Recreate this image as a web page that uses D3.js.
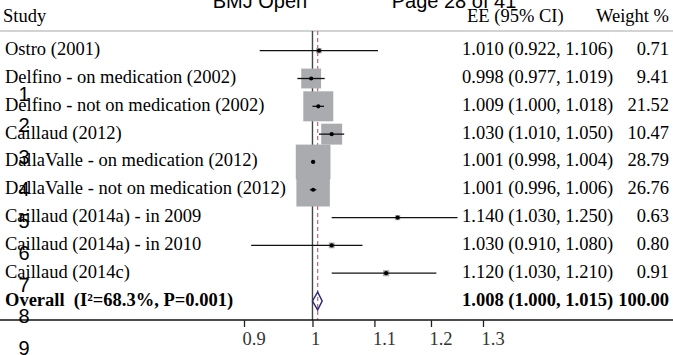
<!DOCTYPE html>
<html><head><meta charset="utf-8">
<script src="https://cdn.jsdelivr.net/npm/d3@7"></script>
<style>
html,body{margin:0;padding:0;background:#fff;}
svg{display:block;}
text{white-space:pre;}
</style></head>
<body>
<script>
const studies = ["Ostro (2001)", "Delfino - on medication (2002)", "Delfino - not on medication (2002)",
  "Caillaud (2012)", "DallaValle - on medication (2012)", "DallaValle - not on medication (2012)",
  "Caillaud (2014a) - in 2009", "Caillaud (2014a) - in 2010", "Caillaud (2014c)"];
const ee     = [1.010, 0.998, 1.009, 1.030, 1.001, 1.001, 1.140, 1.030, 1.120];
const lower  = [0.922, 0.977, 1.000, 1.010, 0.998, 0.996, 1.030, 0.910, 1.030];
const upper  = [1.106, 1.019, 1.018, 1.050, 1.004, 1.006, 1.250, 1.080, 1.210];
const weights = [0.71, 9.41, 21.52, 10.47, 28.79, 26.76, 0.63, 0.80, 0.91];
const overallLabel = "Overall  (I\u00B2=68.3%, P=0.001)";
const overallEE = 1.008, overallLower = 1.000, overallUpper = 1.015, overallWeight = 100.00;
const tickValues = [0.9, 1, 1.1, 1.2, 1.3];
const headers = ["Study", "EE (95% CI)", "Weight %"];
const pageHeader = ["BMJ Open", "Page 28 of 41"];
const lineNumbers = [1, 2, 3, 4, 5, 6, 7, 8, 9];

const W = 673, H = 355;
const svg = d3.select("body").append("svg").attr("width", W).attr("height", H);
const serif = "'Liberation Serif', 'Times New Roman', serif";
const fs = 18.5;

const x = d3.scaleLog().domain([0.9, 1.3]).range([244, 483]);
const rows = studies.concat([overallLabel]);
const y = d3.scalePoint().domain(rows).range([50.7, 301]);
const side = d3.scaleSqrt().domain([0, 28.79]).range([0, 34.7]);
const fmt3 = d3.format(".3f"), fmt2 = d3.format(".2f");

const topY = 31, axisY = 320;

// header line
svg.append("line").attr("x1", 0).attr("x2", W).attr("y1", topY).attr("y2", topY)
  .attr("stroke", "#c4c4c4").attr("stroke-width", 1.5);

// headers
svg.append("text").attr("x", 3).attr("y", 22).attr("font-family", serif).attr("font-size", fs).text(headers[0]);
svg.append("text").attr("x", 467).attr("y", 22).attr("font-family", serif).attr("font-size", fs).text(headers[1]);
svg.append("text").attr("x", 669).attr("y", 22).attr("text-anchor", "end").attr("font-family", serif).attr("font-size", fs).text(headers[2]);

// null line
svg.append("line").attr("x1", x(1)).attr("x2", x(1)).attr("y1", topY).attr("y2", axisY)
  .attr("stroke", "#444").attr("stroke-width", 1.4);
// overall dashed line
svg.append("line").attr("x1", x(overallEE)).attr("x2", x(overallEE)).attr("y1", topY).attr("y2", axisY)
  .attr("stroke", "#c0707e").attr("stroke-width", 1.3).attr("stroke-dasharray", "4,3");

const data = studies.map((s, i) => ({s, ee: ee[i], lo: lower[i], hi: upper[i], w: weights[i]}));

// boxes
svg.selectAll("rect.box").data(data).join("rect").attr("class", "box")
  .attr("x", d => x(d.ee) - side(d.w) / 2).attr("y", d => y(d.s) - side(d.w) / 2)
  .attr("width", d => side(d.w)).attr("height", d => side(d.w))
  .attr("fill", "#a9abae");

// CI lines
svg.selectAll("line.ci").data(data).join("line").attr("class", "ci")
  .attr("x1", d => x(d.lo)).attr("x2", d => x(d.hi))
  .attr("y1", d => y(d.s)).attr("y2", d => y(d.s))
  .attr("stroke", "#111").attr("stroke-width", 1.3);

// dots
svg.selectAll("circle.pt").data(data).join("circle").attr("class", "pt")
  .attr("cx", d => x(d.ee)).attr("cy", d => y(d.s)).attr("r", 2.1).attr("fill", "#000");

// diamond
const oy = y(overallLabel), dh = 9;
svg.append("path")
  .attr("d", `M${x(overallLower)},${oy} L${x(overallEE)},${oy - dh} L${x(overallUpper)},${oy} L${x(overallEE)},${oy + dh} Z`)
  .attr("fill", "none").attr("stroke", "#2a2a7a").attr("stroke-width", 1.5);

// labels
svg.selectAll("text.lab").data(data).join("text").attr("class", "lab")
  .attr("x", 5).attr("y", d => y(d.s) + 4.5)
  .attr("font-family", serif).attr("font-size", fs).text(d => d.s);
svg.selectAll("text.ci").data(data).join("text").attr("class", "ci")
  .attr("x", 462).attr("y", d => y(d.s) + 4.5)
  .attr("font-family", serif).attr("font-size", fs)
  .text(d => `${fmt3(d.ee)} (${fmt3(d.lo)}, ${fmt3(d.hi)})`);
svg.selectAll("text.wt").data(data).join("text").attr("class", "wt")
  .attr("x", 669).attr("y", d => y(d.s) + 4.5).attr("text-anchor", "end")
  .attr("font-family", serif).attr("font-size", fs).text(d => fmt2(d.w));

svg.append("text").attr("x", 5).attr("y", oy + 4.5).attr("font-family", serif).attr("font-size", fs)
  .attr("font-weight", "bold").text(overallLabel);
svg.append("text").attr("x", 462).attr("y", oy + 4.5).attr("font-family", serif).attr("font-size", fs)
  .attr("font-weight", "bold").text(`${fmt3(overallEE)} (${fmt3(overallLower)}, ${fmt3(overallUpper)})`);
svg.append("text").attr("x", 669).attr("y", oy + 4.5).attr("text-anchor", "end").attr("font-family", serif).attr("font-size", fs)
  .attr("font-weight", "bold").text(fmt2(overallWeight));

// axis
svg.append("line").attr("x1", 0).attr("x2", W).attr("y1", axisY).attr("y2", axisY)
  .attr("stroke", "#111").attr("stroke-width", 1.5);
const axis = d3.axisBottom(x).tickValues(tickValues).tickSize(7).tickFormat(d3.format(""));
const ag = svg.append("g").attr("transform", `translate(0,${axisY})`).call(axis);
ag.select(".domain").remove();
ag.selectAll(".tick line").attr("stroke", "#222").attr("stroke-width", 1.3);
ag.selectAll(".tick text").attr("font-family", serif).attr("font-size", fs).attr("fill", "#333")
  .attr("text-anchor", "start").attr("x", -2).attr("y", 8).attr("dy", "0.9em");

// page overlay (PDF header + line numbers)
const sans = "'Liberation Sans', Arial, sans-serif";
svg.append("text").attr("x", 260).attr("y", 8).attr("text-anchor", "middle").attr("font-family", sans).attr("font-size", 20).text(pageHeader[0]);
svg.append("text").attr("x", 454).attr("y", 8).attr("text-anchor", "middle").attr("font-family", sans).attr("font-size", 20).text(pageHeader[1]);
svg.selectAll("text.ln").data(lineNumbers).join("text").attr("class", "ln")
  .attr("x", 24).attr("y", (d, i) => 100.5 + 31.85 * i).attr("text-anchor", "middle")
  .attr("font-family", sans).attr("font-size", 20).text(d => d);
</script>
</body></html>
